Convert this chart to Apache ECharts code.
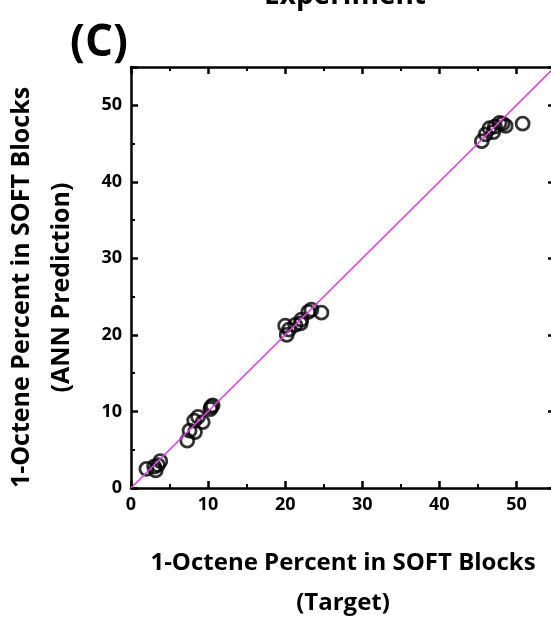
<!DOCTYPE html>
<html><head><meta charset="utf-8">
<script src="https://cdn.jsdelivr.net/npm/echarts@6/dist/echarts.min.js"></script>
<style>html,body{margin:0;padding:0;background:#fff}#c{width:551px;height:619px}</style>
</head><body><div id="c"></div>
<script>
const targetX = [2.0, 3.0, 3.2, 3.5, 3.8, 7.3, 7.6, 8.3, 8.2, 8.7, 9.3, 10.3, 10.6, 10.4, 20.0, 20.2, 20.5, 21.3, 22.0, 22.1, 23.0, 23.4, 24.7, 45.5, 46.0, 46.5, 47.0, 47.2, 47.8, 48.2, 48.6, 50.8];
const predY   = [2.5, 2.8, 2.3, 3.0, 3.5, 6.2, 7.5, 7.3, 8.8, 9.3, 8.6, 10.3, 10.8, 10.6, 21.2, 20.0, 20.7, 21.3, 21.5, 22.0, 23.0, 23.3, 22.9, 45.3, 46.2, 47.0, 46.5, 47.2, 47.7, 47.6, 47.3, 47.6];
const parityLine = [[0, 0], [55, 55]];
const xTicks = [0, 10, 20, 30, 40, 50];
const yTicks = [0, 10, 20, 30, 40, 50];

const pts = targetX.map((x, i) => [x, predY[i]]);
const chart = echarts.init(document.getElementById('c'), null, {renderer: 'canvas'});
const F = '"Open Sans", sans-serif';
const axisCommon = {
  min: 0, max: 55, interval: 10,
  axisLine: {show: true, onZero: false, lineStyle: {color: '#000', width: 2.5}},
  axisTick: {show: true, inside: true, length: 7, lineStyle: {color: '#000', width: 2.5}},
  minorTick: {show: true, splitNumber: 2, length: 4, lineStyle: {color: '#000', width: 2}},
  splitLine: {show: false}
};
chart.setOption({
  animation: false,
  backgroundColor: '#fff',
  grid: {left: 131, top: 67, right: -4, bottom: 131, containLabel: false, outerBoundsMode: 'none'},
  title: [
    {text: 'Experiment', left: 340, top: -23, textAlign: 'center', textStyle: {fontFamily: F, fontWeight: 'bold', fontSize: 28, color: '#000'}},
    {text: '(C)', left: 65, top: 16, textStyle: {fontFamily: F, fontWeight: 'bold', fontSize: 44, color: '#000'}}
  ],
  xAxis: [
    Object.assign({}, axisCommon, {type: 'value', position: 'bottom',
      axisLabel: {show: true, fontFamily: F, fontWeight: 'bold', fontSize: 18, color: '#000', margin: 8,
        formatter: v => xTicks.includes(v) ? String(v) : ''},
      name: '1-Octene Percent in SOFT Blocks\n(Target)', nameLocation: 'middle', nameGap: 55,
      nameTextStyle: {fontFamily: F, fontWeight: 'bold', fontSize: 24, color: '#000', lineHeight: 40}}),
    Object.assign({}, axisCommon, {type: 'value', position: 'top', axisLabel: {show: false}})
  ],
  yAxis: [
    Object.assign({}, axisCommon, {type: 'value', position: 'left',
      axisLabel: {show: true, fontFamily: F, fontWeight: 'bold', fontSize: 18, color: '#000', margin: 9,
        formatter: v => yTicks.includes(v) ? String(v) : ''},
      name: '1-Octene Percent in SOFT Blocks\n(ANN Prediction)', nameLocation: 'middle', nameGap: 49,
      nameTextStyle: {fontFamily: F, fontWeight: 'bold', fontSize: 25, color: '#000', lineHeight: 40, padding: [0, 20, 0, 0]}}),
    Object.assign({}, axisCommon, {type: 'value', position: 'right', axisLabel: {show: false}})
  ],
  series: [
    {type: 'line', data: parityLine, xAxisIndex: 0, yAxisIndex: 0, symbol: 'none', clip: true,
     lineStyle: {color: '#e040e0', width: 1.6}, z: 3},
    {type: 'scatter', data: pts, xAxisIndex: 0, yAxisIndex: 0, symbol: 'circle', symbolSize: 13,
     itemStyle: {color: 'rgba(0,0,0,0)', borderColor: '#000', borderWidth: 2.8}, z: 2}
  ]
});
</script></body></html>
